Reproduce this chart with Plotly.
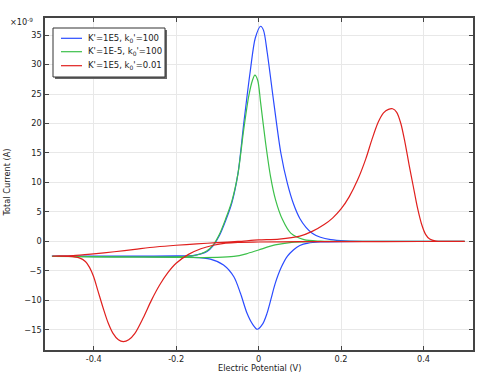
import plotly.graph_objects as go

# ---------------- data (values in units of 1e-9 A) ----------------
names = ["K'=1E5, k<sub>0</sub>'=100", "K'=1E-5, k<sub>0</sub>'=100", "K'=1E5, k<sub>0</sub>'=0.01"]
colors = ["#2a4bff", "#3cc04a", "#e0201e"]

# Blue: K'=1E5, k0'=100
blue_fwd_x = [-0.5, -0.4, -0.3, -0.2, -0.16, -0.14, -0.125, -0.11, -0.095, -0.08, -0.065, -0.05, -0.036, -0.02,
              -0.008, 0.005, 0.012, 0.021, 0.037, 0.054, 0.07, 0.085, 0.1, 0.115, 0.13, 0.15, 0.175, 0.21,
              0.3, 0.4, 0.5]
blue_fwd_y = [-2.5, -2.5, -2.5, -2.45, -2.4, -2.1, -1.7, -0.7, 1.0, 3.5, 6.5, 11.5, 20.0, 29.0,
              34.5, 36.5, 35.8, 32.0, 23.5, 15.0, 9.8, 6.3, 3.9, 2.4, 1.4, 0.7, 0.3, 0.1,
              0.0, 0.0, 0.0]
blue_rev_x = [0.5, 0.4, 0.3, 0.2, 0.15, 0.12, 0.1, 0.085, 0.07, 0.055, 0.04, 0.03, 0.02, 0.01, -0.003, -0.015,
              -0.028, -0.044, -0.06, -0.085, -0.117, -0.166, -0.25, -0.35, -0.5]
blue_rev_y = [0.0, 0.0, 0.0, -0.02, -0.1, -0.3, -0.7, -1.4, -2.5, -4.4, -7.2, -9.8, -12.3, -14.0, -14.9, -14.0,
              -12.2, -8.8, -6.0, -4.0, -3.0, -2.7, -2.62, -2.58, -2.5]

# Green: K'=1E-5, k0'=100
green_fwd_x = [-0.5, -0.3, -0.2, -0.16, -0.14, -0.125, -0.11, -0.095, -0.08, -0.065, -0.05, -0.036, -0.024,
               -0.015, -0.009, -0.002, 0.005, 0.017, 0.029, 0.041, 0.058, 0.078, 0.11, 0.15, 0.25, 0.5]
green_fwd_y = [-2.55, -2.6, -2.6, -2.45, -2.1, -1.6, -0.6, 1.2, 3.8, 6.8, 11.5, 19.0, 24.6,
               27.3, 28.2, 27.3, 23.5, 16.7, 11.0, 7.1, 3.7, 1.4, 0.3, 0.05, 0.0, 0.0]
green_rev_x = [0.5, 0.15, 0.12, 0.08, 0.04, 0.0, -0.03, -0.06, -0.1, -0.2, -0.35, -0.5]
green_rev_y = [0.0, 0.0, -0.02, -0.15, -0.6, -1.45, -2.1, -2.55, -2.72, -2.72, -2.65, -2.55]

# Red: K'=1E5, k0'=0.01
red_fwd_x = [-0.5, -0.45, -0.4, -0.35, -0.3, -0.25, -0.2, -0.15, -0.1, -0.05, 0.0, 0.05, 0.1, 0.13,
             0.16, 0.18, 0.2, 0.22, 0.24, 0.26, 0.275, 0.29, 0.303, 0.315, 0.325, 0.335, 0.345, 0.355,
             0.365, 0.375, 0.385, 0.395, 0.405, 0.415, 0.43, 0.45, 0.5]
red_fwd_y = [-2.5, -2.4, -2.1, -1.75, -1.35, -0.95, -0.65, -0.42, -0.2, 0.0, 0.25, 0.4, 0.9, 1.7,
             2.9, 4.0, 5.5, 7.6, 10.4, 14.0, 17.3, 20.2, 21.8, 22.4, 22.5, 21.9, 20.0, 16.8,
             13.0, 9.4, 5.8, 3.0, 1.2, 0.4, 0.05, 0.0, 0.0]
red_rev_x = [0.5, 0.3, 0.1, 0.0, -0.05, -0.08, -0.11, -0.14, -0.17, -0.2, -0.22, -0.24, -0.26, -0.28,
             -0.3, -0.315, -0.328, -0.34, -0.353, -0.365, -0.377, -0.39, -0.4, -0.41, -0.42, -0.435,
             -0.46, -0.5]
red_rev_y = [0.0, -0.02, -0.05, -0.1, -0.15, -0.3, -0.65, -1.25, -2.2, -3.7, -5.3, -7.4, -10.0, -13.0,
             -15.6, -16.7, -17.0, -16.7, -15.6, -13.8, -11.3, -8.3, -6.0, -4.4, -3.4, -2.8,
             -2.55, -2.5]

x_ticks = [-0.4, -0.2, 0, 0.2, 0.4]
x_tick_labels = ["-0.4", "-0.2", "0", "0.2", "0.4"]
y_ticks = [-15, -10, -5, 0, 5, 10, 15, 20, 25, 30, 35]

series = [
    (blue_fwd_x + blue_rev_x, blue_fwd_y + blue_rev_y),
    (green_fwd_x + green_rev_x, green_fwd_y + green_rev_y),
    (red_fwd_x + red_rev_x, red_fwd_y + red_rev_y),
]

# ---------------- figure ----------------
W, H = 480, 377
L, R, T, B = 45, 7, 18, 27
PW, PH = W - L - R, H - T - B

def px(xp):
    return (xp - L) / PW

def py(yp):
    return (H - B - yp) / PH

FONT = "DejaVu Sans"
FS = 8.2
fig = go.Figure()
for (xs, ys), nm, c in zip(series, names, colors):
    fig.add_trace(go.Scatter(x=xs, y=ys, mode="lines", name=nm,
                             line=dict(color=c, width=1.2, shape="spline", smoothing=0.8),
                             showlegend=False))

axis_common = dict(showline=True, linecolor="#444", linewidth=1.5, mirror="ticks",
                   ticks="inside", ticklen=4, tickcolor="#444", showgrid=True,
                   gridcolor="#e8e8e8", gridwidth=1, zeroline=False, automargin=False,
                   tickfont=dict(family=FONT, size=FS, color="#222"))

fig.update_xaxes(range=[-0.518, 0.520], tickvals=x_ticks, ticktext=x_tick_labels, **axis_common)
fig.update_yaxes(range=[-18.42, 37.9], tickvals=y_ticks, **axis_common)

ann = []
ann.append(dict(text="Electric Potential (V)", x=px(259), y=py(367.5), xref="paper", yref="paper",
                showarrow=False, xanchor="center", yanchor="middle",
                font=dict(family=FONT, size=FS, color="#222")))
ann.append(dict(text="Total Current (A)", x=px(6.5), y=py(183), xref="paper", yref="paper",
                showarrow=False, xanchor="center", yanchor="middle", textangle=-90,
                font=dict(family=FONT, size=FS, color="#222")))
ann.append(dict(text="×10<sup>-9</sup>", x=px(8), y=py(22), xref="paper", yref="paper",
                showarrow=False, xanchor="left", yanchor="middle",
                font=dict(family=FONT, size=FS, color="#222")))

shapes = []
# legend shadow and box
shapes.append(dict(type="rect", xref="paper", yref="paper", x0=px(55), x1=px(167), y0=py(79), y1=py(30),
                   fillcolor="#666", line=dict(width=0), layer="above"))
shapes.append(dict(type="rect", xref="paper", yref="paper", x0=px(53), x1=px(165), y0=py(77), y1=py(28),
                   fillcolor="white", line=dict(color="#333", width=1), layer="above"))
rows = [38.3, 51.7, 65.7]
for yy, nm, c in zip(rows, names, colors):
    shapes.append(dict(type="line", xref="paper", yref="paper", x0=px(61), x1=px(82), y0=py(yy), y1=py(yy),
                       line=dict(color=c, width=1.2), layer="above"))
    ann.append(dict(text=nm, x=px(85.5), y=py(yy), xref="paper", yref="paper", showarrow=False,
                    xanchor="left", yanchor="middle", font=dict(family=FONT, size=FS + 0.3, color="#222")))

fig.update_layout(width=W, height=H, margin=dict(l=L, r=R, t=T, b=B, pad=0),
                  plot_bgcolor="white", paper_bgcolor="white",
                  annotations=ann, shapes=shapes, showlegend=False)

fig.write_html("out.html", config={"displayModeBar": False},
               post_script="document.body.style.margin='0px';")
